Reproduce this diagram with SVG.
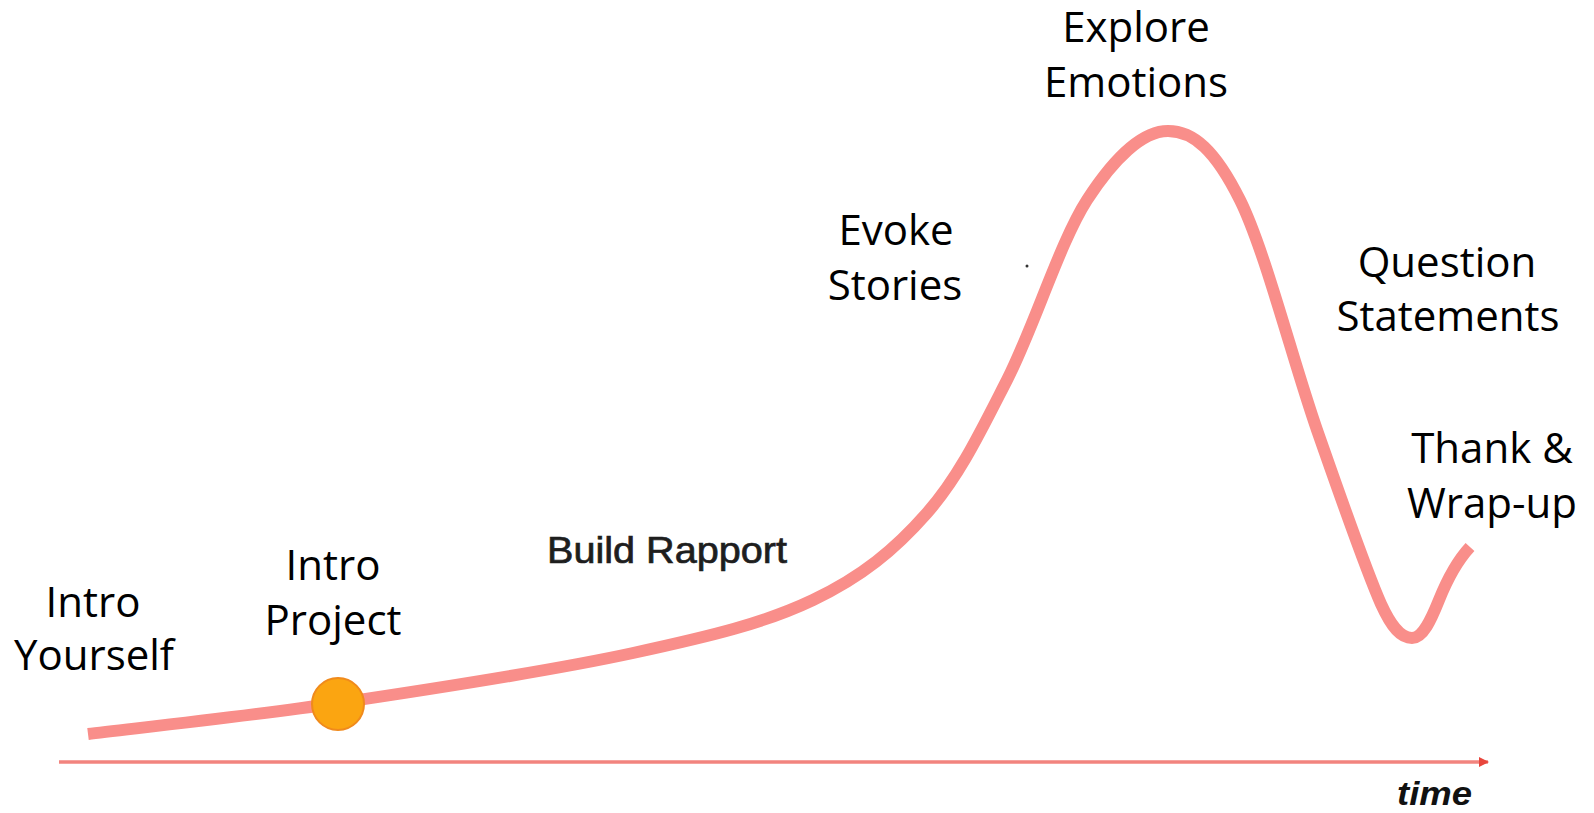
<svg xmlns="http://www.w3.org/2000/svg" width="1594" height="813" viewBox="0 0 1594 813">
  <defs>
    <style>
      .lbl { font-family: "Open Sans", "Liberation Sans", sans-serif; font-size: 42px; fill: #000; text-anchor: middle; }
      .curve { fill: none; stroke: #f98e8a; stroke-width: 12; stroke-linecap: butt; stroke-linejoin: round; }
      .axis { fill: none; stroke: #f2847e; stroke-width: 3.5; }
    </style>
    <marker id="arrow" markerWidth="10" markerHeight="10" refX="9" refY="5" orient="auto" markerUnits="userSpaceOnUse">
      <path d="M0,0 L10,5 L0,10 z" fill="#e8463c"/>
    </marker>
  </defs>
  <rect width="1594" height="813" fill="#ffffff"/>

  <g id="connectors">
    <line class="axis" x1="59" y1="762" x2="1488" y2="762" marker-end="url(#arrow)"/>
    <path class="curve" d="M88,734 C129.7,728.8 247.2,716.5 338,703 C428.8,689.5 553.8,670.2 633,653 C712.2,635.8 764,623.3 813,600 C862,576.7 894.7,549.7 927,513 C959.3,476.3 980.3,432.2 1007,380 C1033.7,327.8 1060.2,241.5 1087,200 C1113.8,158.5 1142.5,131 1168,131 C1193.5,131 1215.2,150.2 1240,200 C1264.8,249.8 1293.2,362.2 1317,430 C1340.8,497.8 1365,568 1381,604 C1392,628 1401,638 1412,638 C1423,638 1431,620 1439,600 C1447,580 1458,560 1470,547"/>
  </g>

  <g id="node-intro-yourself">
    <text class="lbl" x="93" y="617">Intro</text>
    <text class="lbl" x="94" y="670">Yourself</text>
  </g>

  <g id="node-intro-project">
    <circle cx="338" cy="704" r="26" fill="#fba511" stroke="#f08a1c" stroke-width="2"/>
    <text class="lbl" x="333" y="580">Intro</text>
    <text class="lbl" x="333" y="635">Project</text>
  </g>

  <g id="node-build-rapport">
    <text x="547" y="563" font-family="Liberation Sans, Arial, sans-serif" font-size="37" fill="#1e1e1e" stroke="#1e1e1e" stroke-width="0.7" textLength="240" lengthAdjust="spacingAndGlyphs">Build Rapport</text>
  </g>

  <g id="node-evoke-stories">
    <text class="lbl" x="896" y="245">Evoke</text>
    <text class="lbl" x="895" y="300">Stories</text>
  </g>

  <g id="node-explore-emotions">
    <text class="lbl" x="1136" y="42">Explore</text>
    <text class="lbl" x="1136" y="97">Emotions</text>
  </g>

  <g id="node-question-statements">
    <text class="lbl" x="1447" y="277">Question</text>
    <text class="lbl" x="1448" y="331">Statements</text>
  </g>

  <g id="node-thank-wrapup">
    <text class="lbl" x="1492" y="463">Thank &amp;</text>
    <text class="lbl" x="1492" y="518">Wrap-up</text>
  </g>

  <g id="node-time">
    <text x="1397" y="805" font-family="Liberation Sans, Arial, sans-serif" font-size="34" font-weight="bold" font-style="italic" fill="#111" textLength="75" lengthAdjust="spacingAndGlyphs">time</text>
  </g>

  <circle cx="1027" cy="266" r="1.5" fill="#333"/>
</svg>
